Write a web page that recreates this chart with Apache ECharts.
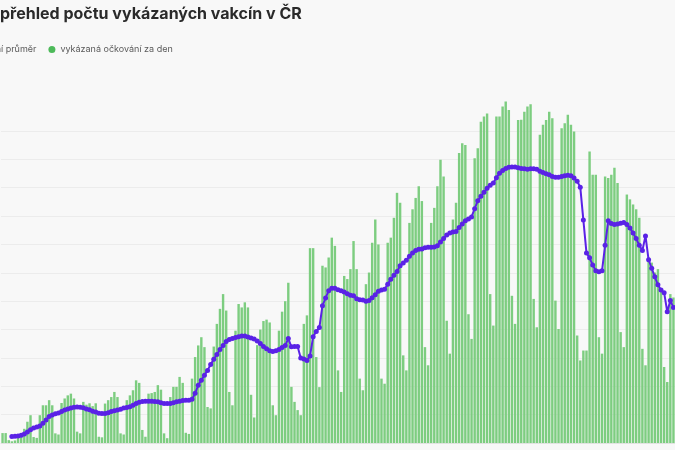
<!DOCTYPE html>
<html>
<head>
<meta charset="utf-8">
<script src="https://cdn.jsdelivr.net/npm/echarts@6/dist/echarts.min.js"></script>
<style>
html,body{margin:0;padding:0;background:#f8f8f8;}
#c{width:675px;height:450px;}
</style>
</head>
<body>
<div id="c"></div>
<script>
// Values in thousands of doses per day, starting 2020-12-30
const startDate = '2020-12-30';
const dailyDoses = [
  3.5, 3.5, 1.0, 0.6, 0.9,
  2.5, 3.5, 5.0, 7.5, 9.8, 2.1, 1.8,
  9.8, 13.3, 13.3, 15.1, 13.3, 3.4, 3.0,
  14.1, 15.7, 16.8, 17.4, 15.7, 4.0, 3.4,
  14.5, 13.5, 14.0, 13.0, 14.0, 2.2, 2.0,
  13.9, 15.1, 16.2, 18.0, 16.2, 3.4, 3.0,
  15.1, 16.8, 18.6, 22.1, 21.2, 4.6, 2.2,
  17.4, 17.6, 18.0, 20.4, 18.8, 3.4, 1.7,
  16.2, 19.8, 19.8, 23.3, 21.2, 3.6, 3.2,
  22.7, 30.3, 34.4, 37.3, 33.8, 12.7, 12.2,
  34.0, 42.0, 47.3, 52.5, 46.7, 18.0, 13.3,
  39.6, 49.0, 47.8, 49.6, 47.8, 17.0, 9.0,
  34.5, 40.0, 43.0, 43.5, 42.5, 13.3, 9.8,
  39.6, 46.3, 50.0, 56.5, 19.8, 14.5, 11.6,
  9.8, 42.0, 45.0, 68.7, 68.7, 30.3, 19.7,
  62.5, 61.9, 65.4, 72.4, 69.5, 25.6, 18.0,
  58.9, 57.8, 61.3, 71.2, 61.3, 22.7, 18.6,
  56.0, 60.1, 70.6, 78.8, 70.0, 22.7, 20.9,
  70.6, 72.4, 79.4, 88.2, 84.7, 30.9, 25.6,
  77.6, 82.4, 86.4, 90.5, 85.3, 33.8, 27.4,
  77.6, 82.9, 90.5, 99.9, 94.0, 43.1, 31.5,
  78.8, 84.7, 102.2, 105.7, 105.1, 45.4, 36.7,
  100.4, 103.9, 113.3, 115.1, 116.2, 52.5, 41.4,
  115.1, 115.1, 118.6, 120.4, 117.4, 51.9, 42.0,
  113.9, 114.0, 116.8, 118.6, 119.4, 50.8, 40.8,
  108.7, 112.2, 113.9, 116.8, 114.5, 50.2, 40.2,
  111.0, 112.7, 115.7, 112.2, 109.8, 37.9, 29.1,
  32.6, 32.6, 102.8, 94.6, 94.6, 37.3, 31.5,
  94.0, 93.4, 94.6, 97.0, 91.7, 39.1, 33.8,
  87.6, 85.9, 84.1, 82.4, 79.4, 33.2, 27.4,
  65.4, 63.6, 60.1, 61.3, 53.7, 26.8, 21.5,
  52.5, 51.3
];
const averageDoses = [
  null, null, null,
  2.3, 2.4, 2.5, 2.7, 3.2, 3.9, 4.7,
  5.3, 5.6, 6.0, 7.0, 8.1, 9.3, 9.9,
  10.3, 10.6, 11.1, 11.6, 12.0, 12.3, 12.6,
  12.7, 12.6, 12.4, 12.0, 11.7, 11.2, 10.9,
  10.5, 10.4, 10.4, 10.7, 11.1, 11.4, 11.6,
  11.9, 12.3, 12.5, 12.8, 13.3, 13.9, 14.4,
  14.6, 14.7, 14.7, 14.7, 14.6, 14.5, 14.2,
  13.9, 13.9, 13.9, 14.2, 14.5, 14.7, 15.0,
  15.1, 15.1, 15.4, 17.5, 20.4, 22.1, 23.9,
  25.6, 27.7, 29.5, 31.2, 33.0, 34.4, 35.8,
  36.5, 36.8, 37.2, 37.5, 37.7, 37.7, 37.4,
  37.0, 36.7, 36.0, 35.1, 34.0, 33.2, 32.5,
  32.3, 32.5, 33.0, 33.7, 34.4, 36.8, 33.9,
  34.0, 34.0, 30.0, 29.6, 29.1, 30.7, 37.5,
  39.3, 40.7, 48.4, 51.1, 53.7, 54.6, 54.6,
  54.0, 53.7, 53.2, 52.6, 52.1, 51.9, 50.9,
  50.5, 50.4, 50.0, 50.2, 51.2, 52.3, 53.5,
  53.9, 54.2, 56.0, 57.7, 59.1, 60.5, 62.5,
  63.5, 64.4, 65.8, 67.0, 67.9, 68.3, 68.4,
  68.8, 69.0, 69.0, 69.1, 69.5, 70.9, 72.1,
  73.3, 74.0, 74.4, 74.6, 76.0, 77.2, 78.4,
  79.0, 79.7, 82.6, 85.4, 87.0, 88.4, 89.8,
  90.9, 91.7, 93.5, 95.1, 96.1, 96.8, 97.2,
  97.3, 97.3, 97.0, 96.8, 96.7, 96.5, 96.7,
  96.7, 96.5, 95.8, 95.4, 94.9, 94.6, 94.0,
  93.7, 93.7, 94.0, 94.2, 94.4, 94.2, 93.4,
  92.3, 90.2, 78.6, 67.0, 65.3, 62.8, 60.7,
  60.4, 60.7, 69.7, 78.4, 77.4, 77.0, 77.2,
  77.5, 77.7, 77.0, 75.8, 74.0, 72.1, 69.7,
  67.9, 73.0, 64.6, 61.6, 58.6, 55.8, 53.9,
  53.0, 46.3, 50.2, 47.8
];
const seriesNames = ['sedmidenní průměr', 'vykázaná očkování za den'];
const titleText = 'přehled počtu vykázaných vakcín v ČR';

// category labels (dates)
const categories = [];
(function () {
  const d0 = new Date(startDate + 'T12:00:00Z');
  for (let i = 0; i < dailyDoses.length; i++) {
    const d = new Date(d0.getTime() + i * 86400000);
    categories.push(d.getUTCDate() + '. ' + (d.getUTCMonth() + 1) + '. ' + d.getUTCFullYear());
  }
})();

// legend is cropped on the left like in the reference: hide "sedmidenn"
const legendFont = 9;
const mctx = document.createElement('canvas').getContext('2d');
mctx.font = legendFont + 'px Inter';
const hiddenW = mctx.measureText('sedmidenn').width;
const legendLeft = -Math.round(7 + 5 + hiddenW) + 1;

const chart = echarts.init(document.getElementById('c'), null, { renderer: 'canvas' });
chart.setOption({
  animation: false,
  backgroundColor: '#f8f8f8',
  title: {
    text: titleText,
    left: 0,
    top: 6,
    padding: 0,
    textStyle: { fontFamily: 'Inter', fontWeight: 700, fontSize: 16, color: '#2a2a2a' }
  },
  legend: {
    left: legendLeft,
    top: 45,
    padding: 0,
    icon: 'circle',
    itemWidth: 7,
    itemHeight: 7,
    itemGap: 12,
    textStyle: { fontFamily: 'Inter', fontSize: legendFont, color: '#5a5a5a' },
    data: [
      { name: seriesNames[0] },
      { name: seriesNames[1], itemStyle: { color: '#4dba5a' } }
    ]
  },
  grid: { left: 1, right: 0, top: 131, bottom: 7, containLabel: false },
  xAxis: {
    type: 'category',
    data: categories,
    boundaryGap: true,
    axisLabel: { show: false },
    axisTick: { show: false },
    axisLine: { show: true, lineStyle: { color: '#e2e2e2', width: 1 } }
  },
  yAxis: {
    type: 'value',
    min: 0,
    max: 110,
    interval: 10,
    axisLabel: { show: false },
    axisTick: { show: false },
    axisLine: { show: false },
    splitLine: { lineStyle: { color: '#ececec', width: 1 } }
  },
  series: [
    {
      name: seriesNames[1],
      type: 'bar',
      data: dailyDoses,
      clip: false,
      barCategoryGap: '22%',
      itemStyle: { color: '#7dcd80' },
      z: 2
    },
    {
      name: seriesNames[0],
      type: 'line',
      data: averageDoses,
      clip: false,
      showAllSymbol: true,
      symbol: 'circle',
      symbolSize: 5,
      itemStyle: { color: '#5a22e6' },
      lineStyle: { color: '#5a22e6', width: 2 },
      z: 3
    }
  ]
});
</script>
</body>
</html>
